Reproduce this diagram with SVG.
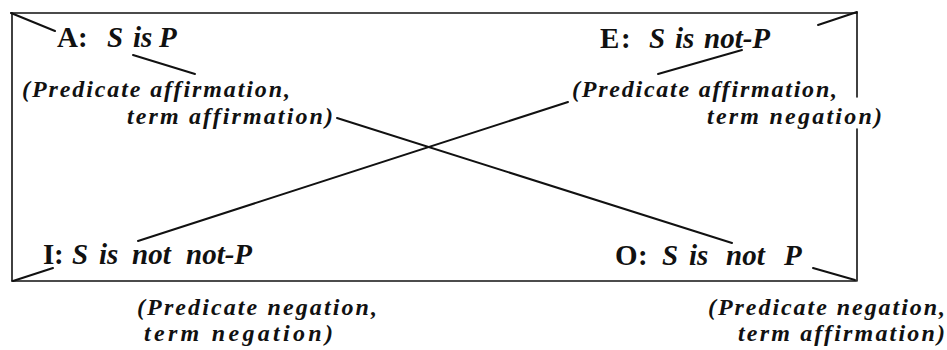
<svg xmlns="http://www.w3.org/2000/svg" width="947" height="350" viewBox="0 0 947 350">
<style>
.frame line{stroke:#111;stroke-width:1.6;stroke-linecap:round}
.conn line{stroke:#111;stroke-width:2;stroke-linecap:round}
.lbl{font-family:"Liberation Serif","Times New Roman",serif;font-size:29px;font-weight:bold;fill:#111}
.it{font-style:italic}
.sub{font-family:"Liberation Serif","Times New Roman",serif;font-size:24px;font-weight:bold;font-style:italic;fill:#111}
</style>
<rect width="947" height="350" fill="#fff"/>
<g id="frame" class="frame">
<line x1="11" y1="13" x2="857" y2="13"/>
<line x1="12" y1="13" x2="12" y2="281"/>
<line x1="12" y1="281" x2="856" y2="281"/>
<line x1="857" y1="13" x2="857" y2="97"/>
<line x1="857" y1="129" x2="857" y2="281"/>
</g>
<g id="connectors" class="conn">
<line x1="11" y1="13" x2="55" y2="31"/>
<line x1="133" y1="55" x2="195" y2="74"/>
<line x1="337" y1="118" x2="732" y2="243"/>
<line x1="813" y1="268" x2="855" y2="280"/>
<line x1="857" y1="12" x2="818" y2="25"/>
<line x1="742" y1="50" x2="658" y2="74"/>
<line x1="568" y1="102" x2="138" y2="241"/>
<line x1="53" y1="268" x2="13" y2="281"/>
</g>
<g id="node-A">
<text class="lbl" y="47"><tspan x="57">A</tspan><tspan x="78">:</tspan><tspan class="it" x="107">S</tspan><tspan class="it" x="133">is</tspan><tspan class="it" x="159">P</tspan></text>
<text class="sub" x="22" y="97" textLength="268" lengthAdjust="spacing">(Predicate affirmation,</text>
<text class="sub" x="127" y="124" textLength="206" lengthAdjust="spacing">term affirmation)</text>
</g>
<g id="node-E">
<text class="lbl" y="48"><tspan x="600">E</tspan><tspan x="621">:</tspan><tspan class="it" x="649">S</tspan><tspan class="it" x="675">is</tspan><tspan class="it" x="704">not-P</tspan></text>
<text class="sub" x="572" y="97" textLength="265" lengthAdjust="spacing">(Predicate affirmation,</text>
<text class="sub" x="707" y="124" textLength="175" lengthAdjust="spacing">term negation)</text>
</g>
<g id="node-I">
<text class="lbl" y="264"><tspan x="43">I</tspan><tspan x="54">:</tspan><tspan class="it" x="72">S</tspan><tspan class="it" x="99">is</tspan><tspan class="it" x="132">not</tspan><tspan class="it" x="186">not-P</tspan></text>
<text class="sub" x="137" y="315" textLength="240" lengthAdjust="spacing">(Predicate negation,</text>
<text class="sub" x="144" y="341" textLength="189" lengthAdjust="spacing">term negation)</text>
</g>
<g id="node-O">
<text class="lbl" y="265"><tspan x="615">O</tspan><tspan x="638">:</tspan><tspan class="it" x="662">S</tspan><tspan class="it" x="689">is</tspan><tspan class="it" x="726">not</tspan><tspan class="it" x="784">P</tspan></text>
<text class="sub" x="708" y="315" textLength="237" lengthAdjust="spacing">(Predicate negation,</text>
<text class="sub" x="738" y="341" textLength="207" lengthAdjust="spacing">term affirmation)</text>
</g>
</svg>
